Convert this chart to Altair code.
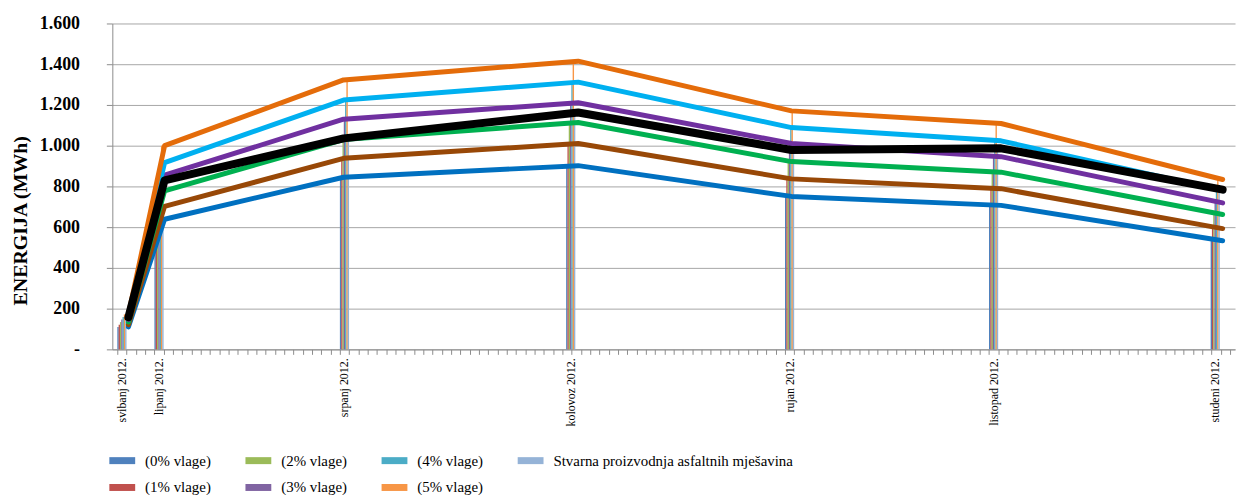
import altair as alt
import pandas as pd

# ---- data ----
months = ['svibanj 2012.', 'lipanj 2012.', 'srpanj 2012.', 'kolovoz 2012.',
          'rujan 2012.', 'listopad 2012.', 'studeni 2012.']
bar_pos = [0.5, 4.5, 24.5, 48.9, 72.5, 94.5, 118.4]      # category position of the columns
line_pos = [1.2, 5.1, 24.4, 49.7, 72.7, 95.3, 119.2]     # category position of the line points

series = ['(0% vlage)', '(1% vlage)', '(2% vlage)', '(3% vlage)',
          '(4% vlage)', '(5% vlage)', 'Stvarna proizvodnja asfaltnih mješavina']
v0 = [110, 639, 845, 902, 751, 707, 533]
v1 = [121, 702, 938, 1011, 837, 789, 593]
v2 = [134, 778, 1030, 1114, 922, 870, 662]
v3 = [147, 855, 1130, 1211, 1011, 946, 719]
v4 = [159, 917, 1224, 1312, 1089, 1024, 779]
v5 = [172, 1000, 1323, 1415, 1171, 1109, 834]
actual = [158, 830, 1036, 1163, 979, 987, 784]
values = [v0, v1, v2, v3, v4, v5, actual]

y_ticks = [0, 200, 400, 600, 800, 1000, 1200, 1400, 1600]
n_categories = 120

bar_colors = ['#4F81BD', '#C0504D', '#9BBB59', '#8064A2', '#4BACC6', '#F79646', '#95B3D7']
line_colors = ['#0070C0', '#984807', '#00B050', '#7030A0', '#00B0F0', '#E46C0A']

# ---- tables ----
rows = []
for k, (name, vals) in enumerate(zip(series, values)):
    for i, v in enumerate(vals):
        rows.append({'series': name, 'k': k, 'bx': bar_pos[i], 'lx': line_pos[i], 'v': v})
df = pd.DataFrame(rows)
lab_df = pd.DataFrame({'bx': bar_pos, 'label': months, 'v': [0] * len(months)})

FONT = 'Liberation Serif'
GRAY = '#8C8C8C'

x_axis = alt.Axis(values=list(range(n_categories + 1)), labels=False, grid=False,
                  ticks=True, tickSize=5, tickColor=GRAY, domainColor=GRAY, title=None)
x_scale = alt.Scale(domain=[0, n_categories], nice=False, zero=False)
y_axis = alt.Axis(values=y_ticks,
                  labelExpr="datum.value == 0 ? '-\u00a0\u00a0' : replace(format(datum.value, ','), ',', '.')",
                  labelFont=FONT, labelFontWeight='bold', labelFontSize=18, labelColor='#000000',
                  labelPadding=27, tickSize=6, tickColor=GRAY, domainColor=GRAY,
                  grid=True, gridColor='#A6A6A6', gridWidth=1,
                  title='ENERGIJA (MWh)', titleFont=FONT, titleFontSize=20, titleFontWeight='bold',
                  titleColor='#000000', titleAngle=270, titleAlign='center', titleBaseline='middle',
                  titleX=-92, titleY=198)
y_scale = alt.Scale(domain=[0, 1600], nice=False)

base = alt.Chart(df)

bars = base.transform_calculate(
    bxo='datum.bx + (datum.k - 3) * 0.14'
).mark_bar(size=1.4).encode(
    x=alt.X('bxo:Q', scale=x_scale, axis=x_axis),
    y=alt.Y('v:Q', scale=y_scale, axis=y_axis),
    color=alt.Color('series:N',
                    scale=alt.Scale(domain=series, range=bar_colors),
                    sort=series,
                    legend=alt.Legend(orient='none', legendX=-3, legendY=427, columns=4,
                                      symbolType='M-1,-0.27H1V0.27H-1Z', symbolSize=676,
                                      symbolStrokeWidth=0, symbolOpacity=1,
                                      labelFont=FONT, labelFontSize=15, labelColor='#000000',
                                      labelOffset=10, labelLimit=400, columnPadding=34,
                                      rowPadding=6, padding=0, title=None)),
)

lines = base.transform_filter(
    alt.datum.k < 6
).mark_line(strokeWidth=5, strokeCap='round', strokeJoin='round').encode(
    x=alt.X('lx:Q', scale=x_scale, axis=x_axis),
    y=alt.Y('v:Q', scale=y_scale, axis=y_axis),
    color=alt.Color('series:N', scale=alt.Scale(domain=series[:6], range=line_colors), legend=None),
    detail='series:N',
)

black = base.transform_filter(
    alt.datum.k == 6
).mark_line(strokeWidth=8, strokeCap='round', strokeJoin='round', color='#000000').encode(
    x=alt.X('lx:Q', scale=x_scale, axis=x_axis),
    y=alt.Y('v:Q', scale=y_scale, axis=y_axis),
)

labels = alt.Chart(lab_df).mark_text(
    angle=270, align='right', baseline='middle', dx=-9,
    font=FONT, fontSize=12, color='#000000'
).encode(
    x=alt.X('bx:Q', scale=x_scale, axis=x_axis),
    y=alt.Y('v:Q', scale=y_scale, axis=y_axis),
    text='label:N',
)

chart = alt.layer(bars, lines, black, labels).resolve_scale(
    color='independent'
).properties(
    width=1130, height=328,
    autosize=alt.AutoSizeParams(type='none'),
    padding={'left': 105, 'top': 14, 'right': 4, 'bottom': 145},
    background='#FFFFFF',
).configure_view(strokeWidth=0)

chart.save('out.html', embed_options={'renderer': 'svg', 'actions': False})
